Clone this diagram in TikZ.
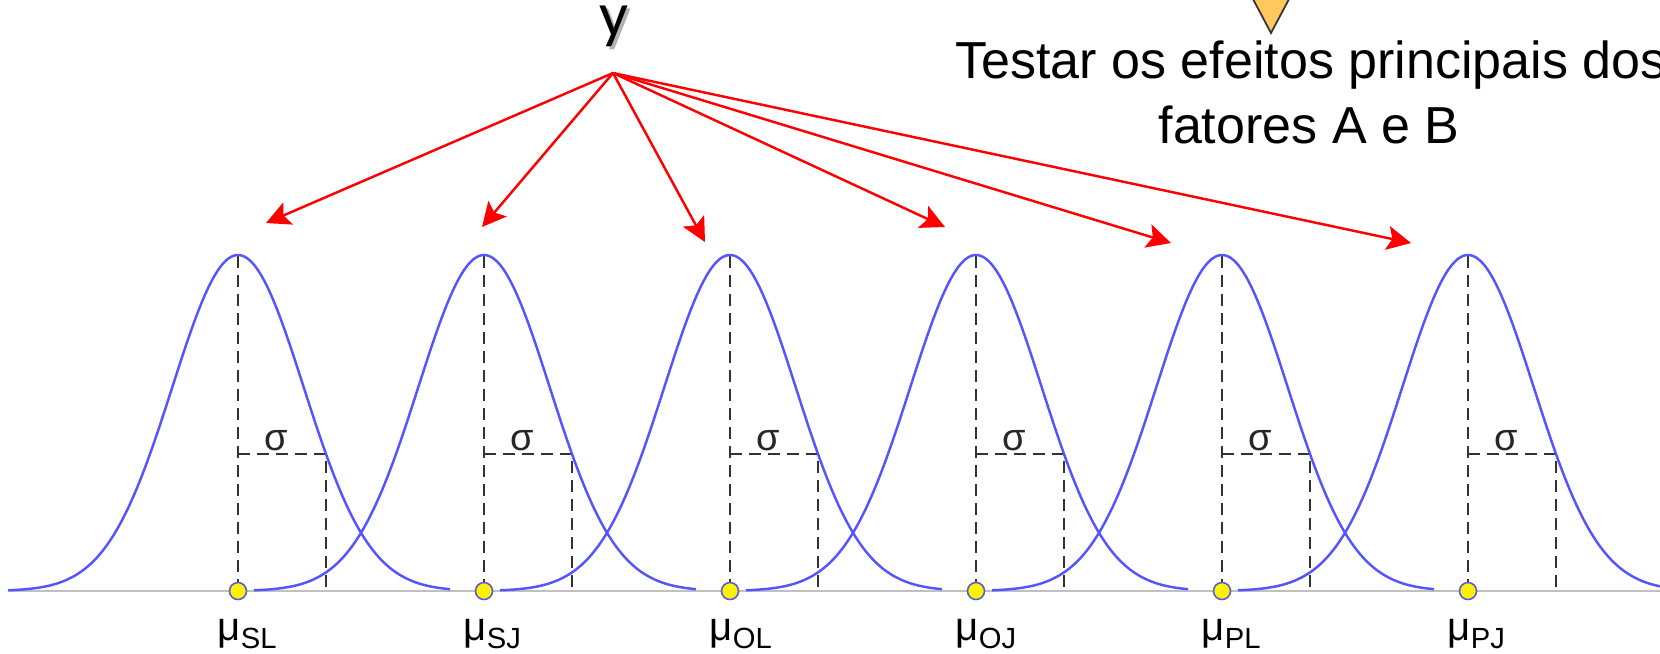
\documentclass[tikz,border=0pt]{standalone}
\usepackage{fontspec}
\setmainfont{Liberation Sans}
\newfontfamily\carlitofont{Carlito}
\usetikzlibrary{arrows.meta}
\definecolor{curveblue}{RGB}{85,85,255}
\definecolor{arrowred}{RGB}{255,0,0}
\definecolor{axisgray}{RGB}{192,192,192}
\definecolor{dotblue}{RGB}{90,90,220}
\definecolor{triorange}{RGB}{255,200,95}
\newcommand\mysublab[1]{μ\raisebox{-0.08cm}{\fontsize{8.3}{9}\selectfont #1}}
\begin{document}
\begin{tikzpicture}[x=0.01cm,y=-0.01cm,
  redarrow/.style={draw=arrowred,line width=0.7pt,-{Stealth[length=0.24cm,width=0.24cm,inset=0.05cm]}},
  gauss/.style={draw=curveblue,line width=0.7pt},
  dashline/.style={draw=black!80,line width=0.55pt,dash pattern=on 0.12cm off 0.07cm},
  mudot/.style={circle,fill=yellow,draw=dotblue,line width=0.45pt,minimum size=0.17cm,inner sep=0pt},
  mulabel/.style={anchor=base west,inner sep=0pt,font=\fontsize{11.4}{13}\selectfont},
  siglabel/.style={anchor=base,inner sep=0pt,text=black!85,font=\fontsize{10.8}{12}\selectfont},
  titletext/.style={anchor=base,inner sep=0pt,font=\fontsize{14.8}{18}\selectfont},
  ytext/.style={anchor=base,inner sep=0pt,font=\carlitofont\fontsize{18.2}{20}\selectfont}]
\useasboundingbox (0,0) rectangle (1660,653);
\clip (0,0) rectangle (1660,653);
\fill[white] (0,0) rectangle (1660,653);

% axis
\draw[axisgray,line width=0.7pt] (9,591) -- (1670,591);

% curves, dashed guides, dots, labels
\foreach \m/\s [count=\i] in {238/SL,484/SJ,730/OL,976/OJ,1222/PL,1468/PJ}{
  \pgfmathsetmacro\lo{\m-230}
  \pgfmathsetmacro\hi{\m+212}
  \pgfmathsetmacro\sx{\m+88}
  \pgfmathsetmacro\lx{\m-21}
  \pgfmathsetmacro\gx{\m+38}
  \draw[dashline] (\m,256) -- (\m,591);
  \draw[dashline] (\m,454) -- (\sx,454) -- (\sx,591);
  \draw[gauss] plot[domain=\lo:\hi,samples=140,smooth]
     (\x,{591-336*exp(-0.5*((\x-\m)/65.7)*((\x-\m)/65.7))});
  \node[mudot] (dot\i) at (\m,591) {};
  \node[mulabel] (mu\i) at (\lx,640) {\mysublab{\s}};
  \node[siglabel] (sig\i) at (\gx,450) {σ};
}

% y label with shadow
\node[ytext,text=black!30] (yshadow) at (617,39) {y};
\node[ytext] (ylab) at (614,36) {y};

% red arrows
\coordinate (src) at (613,73);
\coordinate (tip1) at (266,223);
\coordinate (tip2) at (482,227);
\coordinate (tip3) at (705,242);
\coordinate (tip4) at (945,227);
\coordinate (tip5) at (1171,243);
\coordinate (tip6) at (1411,243);
\foreach \i in {1,...,6}{
  \draw[redarrow] (src) -- (tip\i);
}

% triangle marker
\filldraw[fill=triorange,draw=black!80,line width=0.5pt]
  (1271,33) -- (1245,-16) -- (1297,-16) -- cycle;

% title text
\node[titletext] (title1) at (1311,78) {Testar os efeitos principais dos};
\node[titletext] (title2) at (1309,143) {fatores A e B};
\end{tikzpicture}
\end{document}
